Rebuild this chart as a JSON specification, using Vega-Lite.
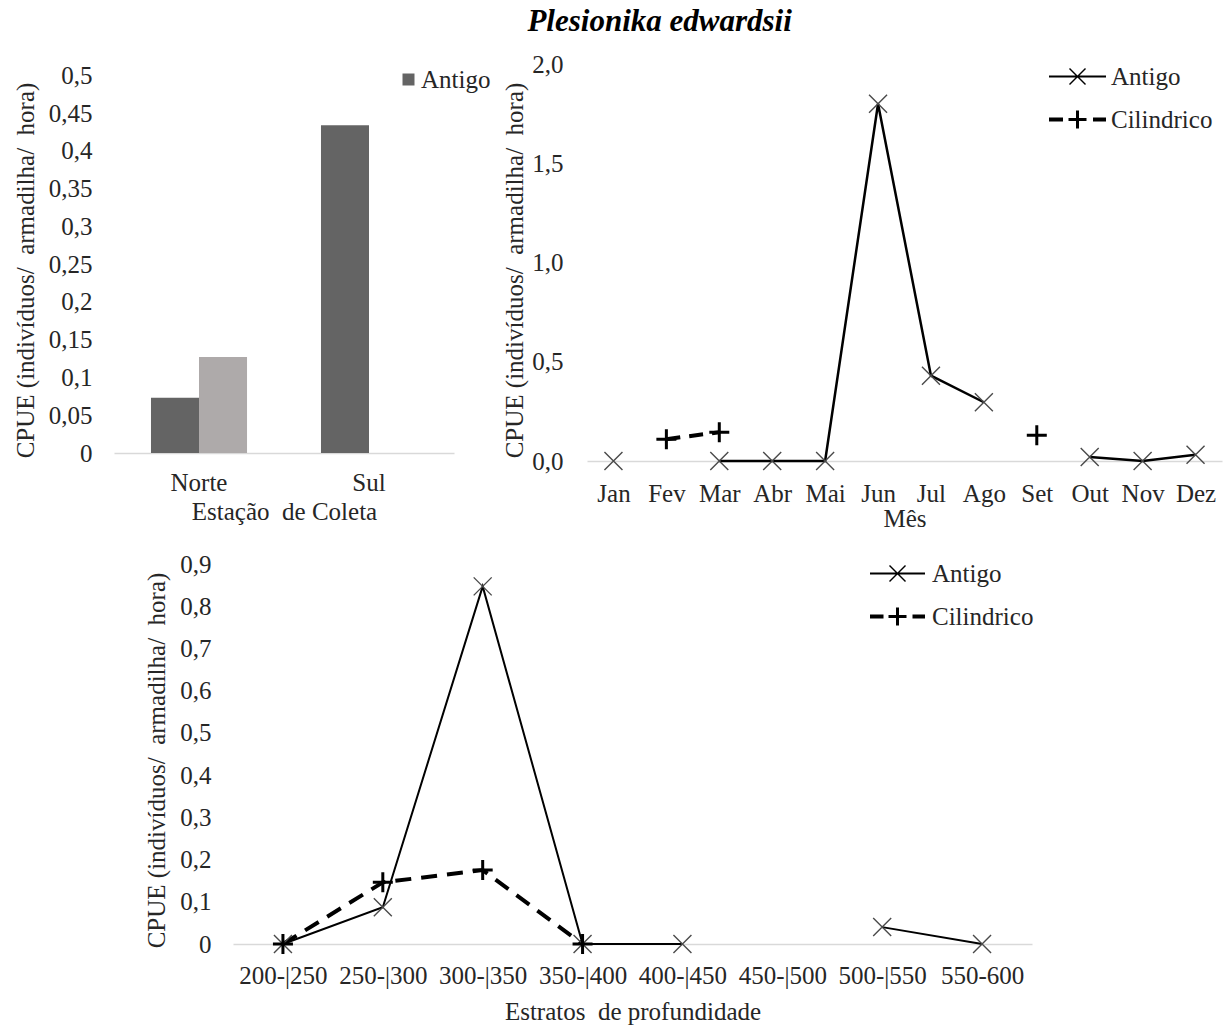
{
  "$schema": "https://vega.github.io/schema/vega-lite/v6.json",
  "padding": {"left": 13, "top": 6, "right": 2, "bottom": 2},
  "title": {
    "text": "Plesionika edwardsii",
    "font": "Liberation Serif",
    "fontSize": 31,
    "fontWeight": "bold",
    "fontStyle": "italic",
    "color": "black",
    "anchor": "middle",
    "dx": 42,
    "offset": 14
  },
  "config": {
    "view": {"stroke": null},
    "font": "Liberation Serif",
    "axis": {
      "labelFont": "Liberation Serif",
      "labelFontSize": 25,
      "labelColor": "#262626",
      "titleFont": "Liberation Serif",
      "titleFontSize": 25,
      "titleFontWeight": "normal",
      "titleColor": "#262626",
      "ticks": false,
      "grid": false,
      "domainColor": "#d9d9d9",
      "domainWidth": 1.5
    },
    "axisY": {"domain": false},
    "axisX": {"labelAngle": 0},
    "legend": {
      "labelFont": "Liberation Serif",
      "labelFontSize": 25,
      "labelColor": "#262626",
      "padding": 0,
      "orient": "none"
    }
  },
  "resolve": {
    "scale": {"color": "independent", "shape": "independent"},
    "legend": {"color": "independent", "shape": "independent"}
  },
  "spacing": 21,
  "vconcat": [
    {
      "spacing": 11,
      "resolve": {
        "scale": {"color": "independent", "shape": "independent"},
        "legend": {"color": "independent", "shape": "independent"}
      },
      "hconcat": [
        {
          "width": 340,
          "height": 389,
          "data": {
            "values": [
              {"estacao": "Norte", "serie": "Antigo", "cpue": 0.073},
              {"estacao": "Norte", "serie": "Cilindrico", "cpue": 0.127},
              {"estacao": "Sul", "serie": "Antigo", "cpue": 0.434}
            ]
          },
          "mark": {"type": "bar"},
          "encoding": {
            "x": {
              "field": "estacao",
              "type": "nominal",
              "sort": ["Norte", "Sul"],
              "scale": {"paddingInner": 0.435, "paddingOuter": 0.2175},
              "axis": {"title": "Estação\u00a0 de Coleta", "labelPadding": 17, "titlePadding": 4}
            },
            "xOffset": {
              "field": "serie",
              "type": "nominal",
              "scale": {"domain": ["Antigo", "Cilindrico"], "paddingInner": 0}
            },
            "y": {
              "field": "cpue",
              "type": "quantitative",
              "scale": {"domain": [0, 0.515], "nice": false},
              "axis": {
                "title": "CPUE (indivíduos/\u00a0 armadilha/\u00a0 hora)",
                "values": [0, 0.05, 0.1, 0.15, 0.2, 0.25, 0.3, 0.35, 0.4, 0.45, 0.5],
                "labelExpr": "replace(format(datum.value, '~r'), '.', ',')",
                "labelPadding": 22,
                "titlePadding": 10,
                "titleY": 206
              }
            },
            "color": {
              "field": "serie",
              "type": "nominal",
              "scale": {"domain": ["Antigo", "Cilindrico"], "range": ["#646464", "#aeaaaa"]},
              "legend": {
                "title": null,
                "values": ["Antigo"],
                "legendX": 282,
                "legendY": 3,
                "symbolType": "square",
                "symbolSize": 144,
                "labelOffset": 0
              }
            }
          }
        },
        {
          "width": 635,
          "height": 397,
          "data": {
            "values": [
              {"mes": "Jan", "serie": "Antigo", "cpue": 0, "trecho": 1},
              {"mes": "Mar", "serie": "Antigo", "cpue": 0, "trecho": 2},
              {"mes": "Abr", "serie": "Antigo", "cpue": 0, "trecho": 2},
              {"mes": "Mai", "serie": "Antigo", "cpue": 0, "trecho": 2},
              {"mes": "Jun", "serie": "Antigo", "cpue": 1.8, "trecho": 2},
              {"mes": "Jul", "serie": "Antigo", "cpue": 0.43, "trecho": 2},
              {"mes": "Ago", "serie": "Antigo", "cpue": 0.296, "trecho": 2},
              {"mes": "Out", "serie": "Antigo", "cpue": 0.02, "trecho": 3},
              {"mes": "Nov", "serie": "Antigo", "cpue": 0, "trecho": 3},
              {"mes": "Dez", "serie": "Antigo", "cpue": 0.032, "trecho": 3},
              {"mes": "Fev", "serie": "Cilindrico", "cpue": 0.11, "trecho": 1},
              {"mes": "Mar", "serie": "Cilindrico", "cpue": 0.145, "trecho": 1},
              {"mes": "Set", "serie": "Cilindrico", "cpue": 0.13, "trecho": 2}
            ]
          },
          "encoding": {
            "x": {
              "field": "mes",
              "type": "ordinal",
              "scale": {"domain": ["Jan", "Fev", "Mar", "Abr", "Mai", "Jun", "Jul", "Ago", "Set", "Out", "Nov", "Dez"]},
              "axis": {"title": "Mês", "labelPadding": 20, "titlePadding": 0}
            },
            "y": {
              "field": "cpue",
              "type": "quantitative",
              "scale": {"domain": [0, 2], "nice": false},
              "axis": {
                "title": "CPUE (indivíduos/\u00a0 armadilha/\u00a0 hora)",
                "values": [0, 0.5, 1, 1.5, 2],
                "labelExpr": "replace(format(datum.value, '.1f'), '.', ',')",
                "labelPadding": 24,
                "titlePadding": 4,
                "titleY": 206
              }
            }
          },
          "layer": [
            {
              "transform": [{"filter": "datum.serie == 'Antigo'"}],
              "mark": {"type": "line", "color": "black", "strokeWidth": 2.5},
              "encoding": {"detail": {"field": "trecho"}}
            },
            {
              "transform": [{"filter": "datum.serie == 'Cilindrico'"}],
              "mark": {"type": "line", "color": "black", "strokeWidth": 4, "strokeDash": [14, 9]},
              "encoding": {"detail": {"field": "trecho"}}
            },
            {
              "transform": [{"filter": "datum.serie == 'Antigo'"}],
              "mark": {"type": "point", "shape": "M-1,-1L1,1M-1,1L1,-1", "size": 324, "filled": false, "stroke": "#4a4a4a", "strokeWidth": 1.4, "opacity": 1}
            },
            {
              "transform": [{"filter": "datum.serie == 'Cilindrico'"}],
              "mark": {"type": "point", "shape": "M-1,0L1,0M0,-1L0,1", "size": 400, "filled": false, "stroke": "black", "strokeWidth": 3, "opacity": 1}
            },
            {
              "data": {"values": []},
              "mark": {"type": "point", "filled": true, "size": 400, "color": "black", "opacity": 1},
              "encoding": {
                "shape": {
                  "field": "serie",
                  "type": "nominal",
                  "scale": {
                    "domain": ["Antigo", "Cilindrico"],
                    "range": [
                      "M-2.85,-0.1H2.85V0.1H-2.85ZM-0.85,-0.75L-0.75,-0.85L0.85,0.75L0.75,0.85ZM0.75,-0.85L0.85,-0.75L-0.75,0.85L-0.85,0.75Z",
                      "M-2.85,-0.2H-1.45V0.2H-2.85ZM1.55,-0.2H2.85V0.2H1.55ZM-0.9,-0.15H0.9V0.15H-0.9ZM-0.15,-0.9H0.15V0.9H-0.15Z"
                    ]
                  },
                  "legend": {
                    "title": null,
                    "legendX": 478,
                    "legendY": 0,
                    "symbolSize": 400,
                    "symbolFillColor": "black",
                    "symbolStrokeWidth": 0,
                    "labelOffset": 21,
                    "rowPadding": 17
                  }
                }
              }
            }
          ]
        }
      ]
    },
    {
      "spacing": 0,
      "resolve": {
        "scale": {"color": "independent", "shape": "independent"},
        "legend": {"color": "independent", "shape": "independent"}
      },
      "hconcat": [
        {
          "width": 30,
          "height": 10,
          "data": {"values": []},
          "mark": {"type": "point", "opacity": 0},
          "encoding": {}
        },
        {
          "width": 799,
          "height": 380,
          "data": {
            "values": [
              {"faixa": "200-|250", "serie": "Antigo", "cpue": 0, "trecho": 1},
              {"faixa": "250-|300", "serie": "Antigo", "cpue": 0.087, "trecho": 1},
              {"faixa": "300-|350", "serie": "Antigo", "cpue": 0.847, "trecho": 1},
              {"faixa": "350-|400", "serie": "Antigo", "cpue": 0, "trecho": 1},
              {"faixa": "400-|450", "serie": "Antigo", "cpue": 0, "trecho": 1},
              {"faixa": "500-|550", "serie": "Antigo", "cpue": 0.04, "trecho": 2},
              {"faixa": "550-600", "serie": "Antigo", "cpue": 0, "trecho": 2},
              {"faixa": "200-|250", "serie": "Cilindrico", "cpue": 0, "trecho": 1},
              {"faixa": "250-|300", "serie": "Cilindrico", "cpue": 0.146, "trecho": 1},
              {"faixa": "300-|350", "serie": "Cilindrico", "cpue": 0.175, "trecho": 1},
              {"faixa": "350-|400", "serie": "Cilindrico", "cpue": 0, "trecho": 1}
            ]
          },
          "encoding": {
            "x": {
              "field": "faixa",
              "type": "ordinal",
              "scale": {"domain": ["200-|250", "250-|300", "300-|350", "350-|400", "400-|450", "450-|500", "500-|550", "550-600"]},
              "axis": {"title": "Estratos\u00a0 de profundidade", "labelPadding": 19, "titlePadding": 11}
            },
            "y": {
              "field": "cpue",
              "type": "quantitative",
              "scale": {"domain": [0, 0.9], "nice": false},
              "axis": {
                "title": "CPUE (indivíduos/\u00a0 armadilha/\u00a0 hora)",
                "values": [0, 0.1, 0.2, 0.3, 0.4, 0.5, 0.6, 0.7, 0.8, 0.9],
                "labelExpr": "replace(format(datum.value, '~r'), '.', ',')",
                "labelPadding": 22,
                "titlePadding": 10,
                "titleY": 196
              }
            }
          },
          "layer": [
            {
              "transform": [{"filter": "datum.serie == 'Antigo'"}],
              "mark": {"type": "line", "color": "black", "strokeWidth": 2},
              "encoding": {"detail": {"field": "trecho"}}
            },
            {
              "transform": [{"filter": "datum.serie == 'Cilindrico'"}],
              "mark": {"type": "line", "color": "black", "strokeWidth": 4, "strokeDash": [16, 10]},
              "encoding": {"detail": {"field": "trecho"}}
            },
            {
              "transform": [{"filter": "datum.serie == 'Antigo'"}],
              "mark": {"type": "point", "shape": "M-1,-1L1,1M-1,1L1,-1", "size": 324, "filled": false, "stroke": "#4a4a4a", "strokeWidth": 1.4, "opacity": 1}
            },
            {
              "transform": [{"filter": "datum.serie == 'Cilindrico'"}],
              "mark": {"type": "point", "shape": "M-1,0L1,0M0,-1L0,1", "size": 400, "filled": false, "stroke": "black", "strokeWidth": 3, "opacity": 1}
            },
            {
              "data": {"values": []},
              "mark": {"type": "point", "filled": true, "size": 400, "color": "black", "opacity": 1},
              "encoding": {
                "shape": {
                  "field": "serie",
                  "type": "nominal",
                  "scale": {
                    "domain": ["Antigo", "Cilindrico"],
                    "range": [
                      "M-2.75,-0.1H2.75V0.1H-2.75ZM-0.85,-0.75L-0.75,-0.85L0.85,0.75L0.75,0.85ZM0.75,-0.85L0.85,-0.75L-0.75,0.85L-0.85,0.75Z",
                      "M-2.75,-0.2H-1.4V0.2H-2.75ZM1.5,-0.2H2.75V0.2H1.5ZM-0.9,-0.15H0.9V0.15H-0.9ZM-0.15,-0.9H0.15V0.9H-0.15Z"
                    ]
                  },
                  "legend": {
                    "title": null,
                    "legendX": 652,
                    "legendY": -3,
                    "symbolSize": 400,
                    "symbolFillColor": "black",
                    "symbolStrokeWidth": 0,
                    "labelOffset": 22,
                    "rowPadding": 17
                  }
                }
              }
            }
          ]
        }
      ]
    }
  ]
}
